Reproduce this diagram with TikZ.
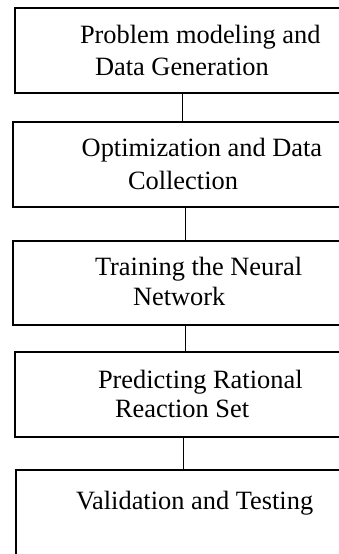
\documentclass[tikz,border=0pt]{standalone}
\usepackage{fontspec}
\setmainfont{Liberation Serif}
\begin{document}
\begin{tikzpicture}[x=1pt,y=-1pt,
  stagebox/.style={draw=black,line width=2.2pt,rectangle,inner sep=0pt,outer sep=0pt,anchor=north west},
  txt/.style={anchor=base west,inner sep=0pt,outer sep=0pt,font=\fontsize{26.4}{31.5}\selectfont},
  link/.style={draw=black,line width=1pt}]
\useasboundingbox (0,0) rectangle (339,554);
\clip (0,0) rectangle (339,554);
% boxes
\node[stagebox,minimum width=335pt,minimum height=84.4pt] (b1) at (15,8.3) {};
\node[stagebox,minimum width=337pt,minimum height=85pt] (b2) at (13.3,122.3) {};
\node[stagebox,minimum width=337pt,minimum height=84.5pt] (b3) at (13.3,240.7) {};
\node[stagebox,minimum width=335pt,minimum height=84.4pt] (b4) at (15,352.3) {};
\node[stagebox,minimum width=334pt,minimum height=100pt] (b5) at (16,470) {};
% texts
\node[txt] (t1a) at (80,43.3) {Problem modeling and};
\node[txt] (t1b) at (95,75) {Data Generation};
\node[txt] (t2a) at (81.7,156.7) {Optimization and Data};
\node[txt] (t2b) at (128,189) {Collection};
\node[txt] (t3a) at (95,275) {Training the Neural};
\node[txt] (t3b) at (133,305) {Network};
\node[txt] (t4a) at (98,388) {Predicting Rational};
\node[txt] (t4b) at (115,417.7) {Reaction Set};
\node[txt] (t5a) at (76,509.3) {Validation and Testing};
% connectors
\coordinate (x1) at (182.7,0);
\coordinate (x2) at (185.7,0);
\coordinate (x3) at (185.7,0);
\coordinate (x4) at (183,0);
\draw[link] (b1.south -| x1) -- (b2.north -| x1);
\draw[link] (b2.south -| x2) -- (b3.north -| x2);
\draw[link] (b3.south -| x3) -- (b4.north -| x3);
\draw[link] (b4.south -| x4) -- (b5.north -| x4);
\end{tikzpicture}
\end{document}
